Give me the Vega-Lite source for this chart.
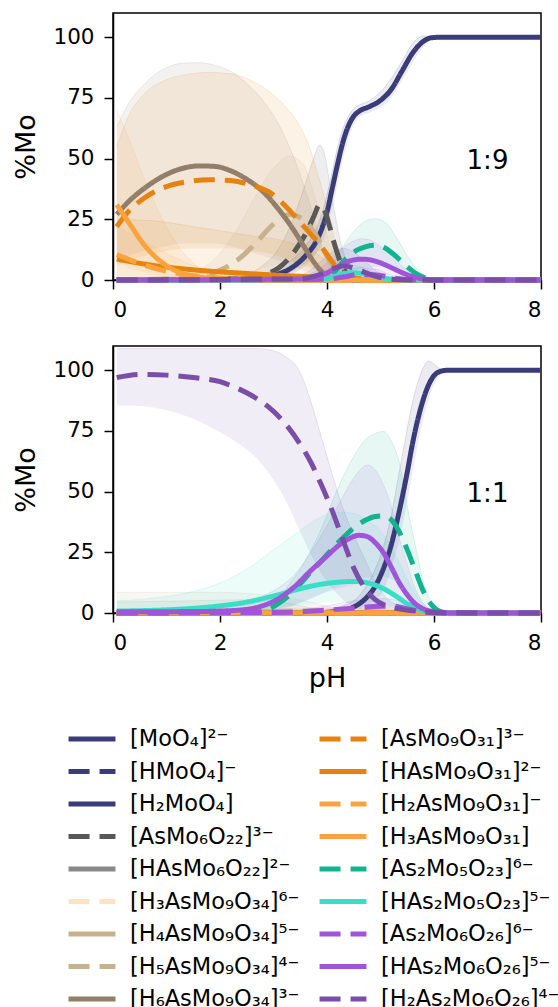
{
"$schema": "https://vega.github.io/schema/vega-lite/v6.json",
"padding": {"left": 12, "top": 12, "right": 10, "bottom": 0},
"config": {
  "font": "DejaVu Sans",
  "view": {"stroke": "#000", "strokeWidth": 1.5},
  "axis": {"grid": false, "domainColor": "#000", "domainWidth": 1.5, "tickColor": "#000", "tickWidth": 1.5, "tickSize": 9, "labelFontSize": 21.5, "labelColor": "#000", "labelPadding": 10, "titleFontSize": 27, "titleFontWeight": "normal", "titleColor": "#000", "titlePadding": 12, "labelFont": "DejaVu Sans", "titleFont": "DejaVu Sans"}
},
"datasets": {
"sp": [
{"k":"m0","s":"[MoO₄]²⁻"},{"k":"m1","s":"[HMoO₄]⁻"},{"k":"m2","s":"[H₂MoO₄]"},
{"k":"a6","s":"[AsMo₆O₂₂]³⁻"},{"k":"a6h","s":"[HAsMo₆O₂₂]²⁻"},
{"k":"h3","s":"[H₃AsMo₉O₃₄]⁶⁻"},{"k":"h4","s":"[H₄AsMo₉O₃₄]⁵⁻"},{"k":"h5","s":"[H₅AsMo₉O₃₄]⁴⁻"},{"k":"h6","s":"[H₆AsMo₉O₃₄]³⁻"},
{"k":"a9","s":"[AsMo₉O₃₁]³⁻"},{"k":"a9h","s":"[HAsMo₉O₃₁]²⁻"},{"k":"a9h2","s":"[H₂AsMo₉O₃₁]⁻"},{"k":"a9h3","s":"[H₃AsMo₉O₃₁]"},
{"k":"b5","s":"[As₂Mo₅O₂₃]⁶⁻"},{"k":"b5h","s":"[HAs₂Mo₅O₂₃]⁵⁻"},
{"k":"b6","s":"[As₂Mo₆O₂₆]⁶⁻"},{"k":"b6h","s":"[HAs₂Mo₆O₂₆]⁵⁻"},{"k":"b6h2","s":"[H₂As₂Mo₆O₂₆]⁴⁻"}
],
"ann": [{"p":"1:9","x":7,"y":49,"t":"1:9"},{"p":"1:1","x":7,"y":49,"t":"1:1"}],
"d": [
{"p":"1:9","k":"m0","x":0.07,"v":0,"lo":0,"hi":0.5},
{"p":"1:9","k":"m0","x":2.5,"v":0.5,"lo":0,"hi":1.5},
{"p":"1:9","k":"m0","x":3.0,"v":2,"lo":0.5,"hi":4},
{"p":"1:9","k":"m0","x":3.3,"v":4.5,"lo":2,"hi":7.5},
{"p":"1:9","k":"m0","x":3.6,"v":10,"lo":6,"hi":14},
{"p":"1:9","k":"m0","x":3.8,"v":16,"lo":11,"hi":21},
{"p":"1:9","k":"m0","x":3.9,"v":21,"lo":15,"hi":27},
{"p":"1:9","k":"m0","x":4.0,"v":28,"lo":21,"hi":35},
{"p":"1:9","k":"m0","x":4.1,"v":38,"lo":30,"hi":45},
{"p":"1:9","k":"m0","x":4.2,"v":48,"lo":40,"hi":55},
{"p":"1:9","k":"m0","x":4.3,"v":57,"lo":50,"hi":62.5},
{"p":"1:9","k":"m0","x":4.4,"v":63.5,"lo":58,"hi":67.5},
{"p":"1:9","k":"m0","x":4.5,"v":67.5,"lo":64,"hi":70.5},
{"p":"1:9","k":"m0","x":4.6,"v":69.5,"lo":67,"hi":72},
{"p":"1:9","k":"m0","x":4.8,"v":71.5,"lo":69,"hi":74},
{"p":"1:9","k":"m0","x":5.0,"v":74,"lo":71,"hi":77.5},
{"p":"1:9","k":"m0","x":5.2,"v":78.5,"lo":75,"hi":83},
{"p":"1:9","k":"m0","x":5.4,"v":86,"lo":82,"hi":90},
{"p":"1:9","k":"m0","x":5.6,"v":93.5,"lo":89.5,"hi":97.5},
{"p":"1:9","k":"m0","x":5.8,"v":98.3,"lo":96,"hi":100.5},
{"p":"1:9","k":"m0","x":5.95,"v":99.8,"lo":99,"hi":100.3},
{"p":"1:9","k":"m0","x":6.1,"v":100,"lo":100,"hi":100},
{"p":"1:9","k":"m0","x":8,"v":100,"lo":100,"hi":100},
{"p":"1:9","k":"m1","x":0.07,"v":0,"lo":0,"hi":0},
{"p":"1:9","k":"m1","x":8,"v":0,"lo":0,"hi":0},
{"p":"1:9","k":"m2","x":0.07,"v":0,"lo":0,"hi":0},
{"p":"1:9","k":"m2","x":8,"v":0,"lo":0,"hi":0},
{"p":"1:9","k":"a6","x":0.07,"v":0,"lo":0,"hi":0},
{"p":"1:9","k":"a6","x":2.4,"v":0.5,"lo":0,"hi":2},
{"p":"1:9","k":"a6","x":2.8,"v":2,"lo":0.5,"hi":6},
{"p":"1:9","k":"a6","x":3.1,"v":5,"lo":1.5,"hi":13},
{"p":"1:9","k":"a6","x":3.4,"v":12,"lo":4,"hi":27},
{"p":"1:9","k":"a6","x":3.6,"v":19,"lo":7,"hi":40},
{"p":"1:9","k":"a6","x":3.75,"v":26,"lo":10,"hi":50},
{"p":"1:9","k":"a6","x":3.86,"v":31,"lo":12,"hi":55.5},
{"p":"1:9","k":"a6","x":3.95,"v":29,"lo":11,"hi":52},
{"p":"1:9","k":"a6","x":4.05,"v":22,"lo":8,"hi":40},
{"p":"1:9","k":"a6","x":4.15,"v":14,"lo":5,"hi":27},
{"p":"1:9","k":"a6","x":4.25,"v":7.5,"lo":2.5,"hi":16},
{"p":"1:9","k":"a6","x":4.4,"v":2,"lo":0.5,"hi":6},
{"p":"1:9","k":"a6","x":4.6,"v":0.3,"lo":0,"hi":1},
{"p":"1:9","k":"a6","x":5.0,"v":0,"lo":0,"hi":0},
{"p":"1:9","k":"a6","x":8,"v":0,"lo":0,"hi":0},
{"p":"1:9","k":"a6h","x":0.07,"v":0,"lo":0,"hi":0},
{"p":"1:9","k":"a6h","x":8,"v":0,"lo":0,"hi":0},
{"p":"1:9","k":"h3","x":0.07,"v":0,"lo":0,"hi":0},
{"p":"1:9","k":"h3","x":8,"v":0,"lo":0,"hi":0},
{"p":"1:9","k":"h4","x":0.07,"v":0,"lo":0,"hi":0},
{"p":"1:9","k":"h4","x":8,"v":0,"lo":0,"hi":0},
{"p":"1:9","k":"h5","x":0.07,"v":0,"lo":0,"hi":0},
{"p":"1:9","k":"h5","x":1.2,"v":0.5,"lo":0,"hi":2},
{"p":"1:9","k":"h5","x":1.6,"v":1.5,"lo":0,"hi":4},
{"p":"1:9","k":"h5","x":2.0,"v":4,"lo":0.5,"hi":11},
{"p":"1:9","k":"h5","x":2.4,"v":9.5,"lo":2,"hi":24},
{"p":"1:9","k":"h5","x":2.7,"v":16,"lo":4,"hi":36},
{"p":"1:9","k":"h5","x":3.0,"v":23,"lo":6,"hi":46},
{"p":"1:9","k":"h5","x":3.3,"v":27,"lo":7.5,"hi":51},
{"p":"1:9","k":"h5","x":3.55,"v":25,"lo":6.5,"hi":48},
{"p":"1:9","k":"h5","x":3.75,"v":20,"lo":5,"hi":36},
{"p":"1:9","k":"h5","x":3.95,"v":12,"lo":3,"hi":22},
{"p":"1:9","k":"h5","x":4.1,"v":6,"lo":1.5,"hi":12},
{"p":"1:9","k":"h5","x":4.3,"v":2,"lo":0.5,"hi":4},
{"p":"1:9","k":"h5","x":4.5,"v":0.5,"lo":0,"hi":1},
{"p":"1:9","k":"h5","x":4.8,"v":0,"lo":0,"hi":0},
{"p":"1:9","k":"h5","x":8,"v":0,"lo":0,"hi":0},
{"p":"1:9","k":"h6","x":0.07,"v":27,"lo":8,"hi":63},
{"p":"1:9","k":"h6","x":0.3,"v":32.5,"lo":10,"hi":73},
{"p":"1:9","k":"h6","x":0.6,"v":38,"lo":12,"hi":81},
{"p":"1:9","k":"h6","x":1.0,"v":43.5,"lo":14,"hi":87.5},
{"p":"1:9","k":"h6","x":1.3,"v":46,"lo":15,"hi":89.3},
{"p":"1:9","k":"h6","x":1.6,"v":47,"lo":15,"hi":89.5},
{"p":"1:9","k":"h6","x":1.9,"v":46.8,"lo":15,"hi":88.5},
{"p":"1:9","k":"h6","x":2.2,"v":45,"lo":14,"hi":86},
{"p":"1:9","k":"h6","x":2.5,"v":41.5,"lo":12,"hi":81},
{"p":"1:9","k":"h6","x":2.8,"v":36.5,"lo":10,"hi":74},
{"p":"1:9","k":"h6","x":3.1,"v":29,"lo":8,"hi":64},
{"p":"1:9","k":"h6","x":3.35,"v":21.5,"lo":6,"hi":52},
{"p":"1:9","k":"h6","x":3.55,"v":14.5,"lo":4,"hi":40},
{"p":"1:9","k":"h6","x":3.75,"v":7.5,"lo":2,"hi":26},
{"p":"1:9","k":"h6","x":3.9,"v":3.5,"lo":1,"hi":14},
{"p":"1:9","k":"h6","x":4.05,"v":1.2,"lo":0.2,"hi":5},
{"p":"1:9","k":"h6","x":4.25,"v":0.3,"lo":0,"hi":1},
{"p":"1:9","k":"h6","x":4.6,"v":0,"lo":0,"hi":0},
{"p":"1:9","k":"h6","x":8,"v":0,"lo":0,"hi":0},
{"p":"1:9","k":"a9","x":0.07,"v":22,"lo":6,"hi":55},
{"p":"1:9","k":"a9","x":0.3,"v":28.5,"lo":8,"hi":68},
{"p":"1:9","k":"a9","x":0.6,"v":34,"lo":10,"hi":77},
{"p":"1:9","k":"a9","x":1.0,"v":38.5,"lo":12,"hi":82.5},
{"p":"1:9","k":"a9","x":1.4,"v":40.5,"lo":13,"hi":84.8},
{"p":"1:9","k":"a9","x":1.8,"v":41.3,"lo":13,"hi":85.5},
{"p":"1:9","k":"a9","x":2.2,"v":41,"lo":13,"hi":85},
{"p":"1:9","k":"a9","x":2.6,"v":39,"lo":12,"hi":82},
{"p":"1:9","k":"a9","x":2.9,"v":36.5,"lo":11,"hi":78},
{"p":"1:9","k":"a9","x":3.2,"v":31,"lo":9,"hi":72},
{"p":"1:9","k":"a9","x":3.45,"v":25,"lo":7,"hi":65},
{"p":"1:9","k":"a9","x":3.65,"v":20,"lo":5,"hi":56},
{"p":"1:9","k":"a9","x":3.85,"v":15,"lo":3.5,"hi":42},
{"p":"1:9","k":"a9","x":4.0,"v":10.5,"lo":2,"hi":30},
{"p":"1:9","k":"a9","x":4.15,"v":6,"lo":1,"hi":16},
{"p":"1:9","k":"a9","x":4.3,"v":3,"lo":0.5,"hi":6},
{"p":"1:9","k":"a9","x":4.5,"v":1,"lo":0,"hi":1.5},
{"p":"1:9","k":"a9","x":4.8,"v":0.2,"lo":0,"hi":0.3},
{"p":"1:9","k":"a9","x":5.2,"v":0,"lo":0,"hi":0},
{"p":"1:9","k":"a9","x":8,"v":0,"lo":0,"hi":0},
{"p":"1:9","k":"a9h","x":0.07,"v":8.6,"lo":1,"hi":25},
{"p":"1:9","k":"a9h","x":0.7,"v":6.2,"lo":1,"hi":24.5},
{"p":"1:9","k":"a9h","x":1.5,"v":4.2,"lo":0.8,"hi":22},
{"p":"1:9","k":"a9h","x":2.5,"v":2.7,"lo":0.5,"hi":18.5},
{"p":"1:9","k":"a9h","x":3.3,"v":1.7,"lo":0.3,"hi":15.5},
{"p":"1:9","k":"a9h","x":3.8,"v":1.2,"lo":0.2,"hi":11},
{"p":"1:9","k":"a9h","x":4.1,"v":0.8,"lo":0.1,"hi":6},
{"p":"1:9","k":"a9h","x":4.4,"v":0.3,"lo":0,"hi":1.5},
{"p":"1:9","k":"a9h","x":4.8,"v":0,"lo":0,"hi":0},
{"p":"1:9","k":"a9h","x":8,"v":0,"lo":0,"hi":0},
{"p":"1:9","k":"a9h2","x":0.07,"v":10.5,"lo":2,"hi":22},
{"p":"1:9","k":"a9h2","x":0.5,"v":6.8,"lo":1.2,"hi":17},
{"p":"1:9","k":"a9h2","x":1.0,"v":3.6,"lo":0.5,"hi":11},
{"p":"1:9","k":"a9h2","x":1.5,"v":1.8,"lo":0.2,"hi":6},
{"p":"1:9","k":"a9h2","x":2.0,"v":0.8,"lo":0,"hi":3},
{"p":"1:9","k":"a9h2","x":3.0,"v":0.2,"lo":0,"hi":0.8},
{"p":"1:9","k":"a9h2","x":4.0,"v":0,"lo":0,"hi":0},
{"p":"1:9","k":"a9h2","x":8,"v":0,"lo":0,"hi":0},
{"p":"1:9","k":"a9h3","x":0.07,"v":31,"lo":8,"hi":70},
{"p":"1:9","k":"a9h3","x":0.3,"v":23.5,"lo":5,"hi":58},
{"p":"1:9","k":"a9h3","x":0.6,"v":14,"lo":3,"hi":41},
{"p":"1:9","k":"a9h3","x":0.9,"v":7.5,"lo":1.5,"hi":26},
{"p":"1:9","k":"a9h3","x":1.2,"v":3.5,"lo":0.6,"hi":14.5},
{"p":"1:9","k":"a9h3","x":1.5,"v":1.6,"lo":0.2,"hi":7},
{"p":"1:9","k":"a9h3","x":1.9,"v":0.6,"lo":0,"hi":2.5},
{"p":"1:9","k":"a9h3","x":2.4,"v":0.2,"lo":0,"hi":0.5},
{"p":"1:9","k":"a9h3","x":3.0,"v":0,"lo":0,"hi":0},
{"p":"1:9","k":"a9h3","x":8,"v":0,"lo":0,"hi":0},
{"p":"1:9","k":"b5","x":0.07,"v":0,"lo":0,"hi":0},
{"p":"1:9","k":"b5","x":3.8,"v":0.2,"lo":0,"hi":1},
{"p":"1:9","k":"b5","x":4.0,"v":1,"lo":0.2,"hi":3.5},
{"p":"1:9","k":"b5","x":4.15,"v":3.5,"lo":1,"hi":8},
{"p":"1:9","k":"b5","x":4.3,"v":7.5,"lo":2.5,"hi":14},
{"p":"1:9","k":"b5","x":4.5,"v":11.5,"lo":4,"hi":20},
{"p":"1:9","k":"b5","x":4.7,"v":13.5,"lo":5,"hi":24},
{"p":"1:9","k":"b5","x":4.9,"v":14.3,"lo":5.5,"hi":25.2},
{"p":"1:9","k":"b5","x":5.1,"v":13,"lo":5,"hi":23.5},
{"p":"1:9","k":"b5","x":5.3,"v":9.5,"lo":3.5,"hi":17.5},
{"p":"1:9","k":"b5","x":5.5,"v":5.5,"lo":2,"hi":10},
{"p":"1:9","k":"b5","x":5.7,"v":2.2,"lo":0.8,"hi":4},
{"p":"1:9","k":"b5","x":5.9,"v":0.5,"lo":0.2,"hi":1},
{"p":"1:9","k":"b5","x":6.1,"v":0,"lo":0,"hi":0},
{"p":"1:9","k":"b5","x":8,"v":0,"lo":0,"hi":0},
{"p":"1:9","k":"b5h","x":0.07,"v":0,"lo":0,"hi":0},
{"p":"1:9","k":"b5h","x":3.9,"v":0.3,"lo":0,"hi":1},
{"p":"1:9","k":"b5h","x":4.1,"v":1.2,"lo":0.3,"hi":3},
{"p":"1:9","k":"b5h","x":4.3,"v":2.5,"lo":0.8,"hi":5},
{"p":"1:9","k":"b5h","x":4.5,"v":3,"lo":1,"hi":6},
{"p":"1:9","k":"b5h","x":4.7,"v":2.5,"lo":0.8,"hi":5},
{"p":"1:9","k":"b5h","x":4.95,"v":1.2,"lo":0.3,"hi":2.5},
{"p":"1:9","k":"b5h","x":5.3,"v":0.2,"lo":0,"hi":0.5},
{"p":"1:9","k":"b5h","x":5.6,"v":0,"lo":0,"hi":0},
{"p":"1:9","k":"b5h","x":8,"v":0,"lo":0,"hi":0},
{"p":"1:9","k":"b6","x":0.07,"v":0,"lo":0,"hi":0},
{"p":"1:9","k":"b6","x":4.0,"v":0.3,"lo":0,"hi":1},
{"p":"1:9","k":"b6","x":4.3,"v":1.2,"lo":0.3,"hi":3},
{"p":"1:9","k":"b6","x":4.6,"v":2.3,"lo":0.7,"hi":5},
{"p":"1:9","k":"b6","x":4.9,"v":2.2,"lo":0.6,"hi":4.5},
{"p":"1:9","k":"b6","x":5.2,"v":1,"lo":0.2,"hi":2},
{"p":"1:9","k":"b6","x":5.5,"v":0.2,"lo":0,"hi":0.5},
{"p":"1:9","k":"b6","x":5.8,"v":0,"lo":0,"hi":0},
{"p":"1:9","k":"b6","x":8,"v":0,"lo":0,"hi":0},
{"p":"1:9","k":"b6h","x":0.07,"v":0,"lo":0,"hi":0},
{"p":"1:9","k":"b6h","x":3.6,"v":0.4,"lo":0,"hi":2},
{"p":"1:9","k":"b6h","x":3.85,"v":1.5,"lo":0.5,"hi":4.5},
{"p":"1:9","k":"b6h","x":4.05,"v":3.5,"lo":1.5,"hi":8},
{"p":"1:9","k":"b6h","x":4.25,"v":6,"lo":2.5,"hi":12.5},
{"p":"1:9","k":"b6h","x":4.45,"v":8,"lo":3.5,"hi":15.5},
{"p":"1:9","k":"b6h","x":4.65,"v":8.6,"lo":4,"hi":17},
{"p":"1:9","k":"b6h","x":4.85,"v":8.1,"lo":3.5,"hi":16},
{"p":"1:9","k":"b6h","x":5.05,"v":6.6,"lo":2.8,"hi":13},
{"p":"1:9","k":"b6h","x":5.25,"v":4.6,"lo":1.8,"hi":9},
{"p":"1:9","k":"b6h","x":5.45,"v":2.6,"lo":1,"hi":5},
{"p":"1:9","k":"b6h","x":5.65,"v":1.1,"lo":0.3,"hi":2},
{"p":"1:9","k":"b6h","x":5.85,"v":0.3,"lo":0,"hi":0.5},
{"p":"1:9","k":"b6h","x":6.1,"v":0,"lo":0,"hi":0},
{"p":"1:9","k":"b6h","x":8,"v":0,"lo":0,"hi":0},
{"p":"1:9","k":"b6h2","x":0.07,"v":0,"lo":0,"hi":0},
{"p":"1:9","k":"b6h2","x":3.5,"v":0.5,"lo":0,"hi":2},
{"p":"1:9","k":"b6h2","x":3.75,"v":1.5,"lo":0.3,"hi":5},
{"p":"1:9","k":"b6h2","x":3.95,"v":3,"lo":0.8,"hi":9},
{"p":"1:9","k":"b6h2","x":4.15,"v":5,"lo":1.5,"hi":12},
{"p":"1:9","k":"b6h2","x":4.3,"v":5.8,"lo":2,"hi":13},
{"p":"1:9","k":"b6h2","x":4.5,"v":5,"lo":1.5,"hi":11.5},
{"p":"1:9","k":"b6h2","x":4.7,"v":3.2,"lo":1,"hi":8},
{"p":"1:9","k":"b6h2","x":4.9,"v":1.6,"lo":0.4,"hi":4},
{"p":"1:9","k":"b6h2","x":5.1,"v":0.6,"lo":0,"hi":1.5},
{"p":"1:9","k":"b6h2","x":5.4,"v":0.1,"lo":0,"hi":0.3},
{"p":"1:9","k":"b6h2","x":5.7,"v":0,"lo":0,"hi":0},
{"p":"1:9","k":"b6h2","x":8,"v":0,"lo":0,"hi":0},
{"p":"1:1","k":"m0","x":0.07,"v":0,"lo":0,"hi":0},
{"p":"1:1","k":"m0","x":3.5,"v":0,"lo":0,"hi":0.3},
{"p":"1:1","k":"m0","x":4.0,"v":0.3,"lo":0,"hi":1},
{"p":"1:1","k":"m0","x":4.3,"v":1.2,"lo":0.3,"hi":3},
{"p":"1:1","k":"m0","x":4.5,"v":2.5,"lo":1,"hi":5},
{"p":"1:1","k":"m0","x":4.7,"v":5.5,"lo":2.5,"hi":10},
{"p":"1:1","k":"m0","x":4.9,"v":11,"lo":5.5,"hi":18},
{"p":"1:1","k":"m0","x":5.05,"v":18,"lo":9,"hi":27},
{"p":"1:1","k":"m0","x":5.2,"v":28,"lo":18,"hi":40},
{"p":"1:1","k":"m0","x":5.3,"v":37,"lo":26,"hi":52},
{"p":"1:1","k":"m0","x":5.4,"v":47,"lo":35,"hi":64},
{"p":"1:1","k":"m0","x":5.5,"v":58,"lo":46,"hi":76},
{"p":"1:1","k":"m0","x":5.6,"v":70,"lo":58,"hi":87},
{"p":"1:1","k":"m0","x":5.7,"v":80,"lo":70,"hi":95},
{"p":"1:1","k":"m0","x":5.8,"v":88,"lo":80,"hi":101},
{"p":"1:1","k":"m0","x":5.9,"v":94,"lo":88,"hi":103.8},
{"p":"1:1","k":"m0","x":6.0,"v":97.8,"lo":94,"hi":102.5},
{"p":"1:1","k":"m0","x":6.1,"v":99.4,"lo":97.5,"hi":100.8},
{"p":"1:1","k":"m0","x":6.25,"v":100,"lo":99.5,"hi":100},
{"p":"1:1","k":"m0","x":8,"v":100,"lo":100,"hi":100},
{"p":"1:1","k":"m1","x":0.07,"v":0,"lo":0,"hi":0},
{"p":"1:1","k":"m1","x":8,"v":0,"lo":0,"hi":0},
{"p":"1:1","k":"m2","x":0.07,"v":0,"lo":0,"hi":0},
{"p":"1:1","k":"m2","x":8,"v":0,"lo":0,"hi":0},
{"p":"1:1","k":"a6","x":0.07,"v":0,"lo":0,"hi":0},
{"p":"1:1","k":"a6","x":8,"v":0,"lo":0,"hi":0},
{"p":"1:1","k":"a6h","x":0.07,"v":0.3,"lo":0,"hi":4.5},
{"p":"1:1","k":"a6h","x":1.5,"v":0.3,"lo":0,"hi":5},
{"p":"1:1","k":"a6h","x":2.5,"v":0.3,"lo":0,"hi":5.5},
{"p":"1:1","k":"a6h","x":3.0,"v":0.3,"lo":0,"hi":5},
{"p":"1:1","k":"a6h","x":3.5,"v":0.2,"lo":0,"hi":3},
{"p":"1:1","k":"a6h","x":4.0,"v":0.1,"lo":0,"hi":1},
{"p":"1:1","k":"a6h","x":4.5,"v":0,"lo":0,"hi":0},
{"p":"1:1","k":"a6h","x":8,"v":0,"lo":0,"hi":0},
{"p":"1:1","k":"h3","x":0.07,"v":0,"lo":0,"hi":0},
{"p":"1:1","k":"h3","x":8,"v":0,"lo":0,"hi":0},
{"p":"1:1","k":"h4","x":0.07,"v":0.3,"lo":0,"hi":8.5},
{"p":"1:1","k":"h4","x":2.0,"v":0.3,"lo":0,"hi":8.5},
{"p":"1:1","k":"h4","x":3.0,"v":0.3,"lo":0,"hi":7},
{"p":"1:1","k":"h4","x":3.8,"v":0.2,"lo":0,"hi":4},
{"p":"1:1","k":"h4","x":4.3,"v":0.1,"lo":0,"hi":1},
{"p":"1:1","k":"h4","x":4.8,"v":0,"lo":0,"hi":0},
{"p":"1:1","k":"h4","x":8,"v":0,"lo":0,"hi":0},
{"p":"1:1","k":"h5","x":0.07,"v":0,"lo":0,"hi":0},
{"p":"1:1","k":"h5","x":2.5,"v":0.3,"lo":0,"hi":1},
{"p":"1:1","k":"h5","x":3.5,"v":0.8,"lo":0,"hi":2},
{"p":"1:1","k":"h5","x":4.5,"v":0.8,"lo":0,"hi":2},
{"p":"1:1","k":"h5","x":5.2,"v":0.2,"lo":0,"hi":0.5},
{"p":"1:1","k":"h5","x":5.6,"v":0,"lo":0,"hi":0},
{"p":"1:1","k":"h5","x":8,"v":0,"lo":0,"hi":0},
{"p":"1:1","k":"h6","x":0.07,"v":0,"lo":0,"hi":0},
{"p":"1:1","k":"h6","x":8,"v":0,"lo":0,"hi":0},
{"p":"1:1","k":"a9","x":0.07,"v":0,"lo":0,"hi":0},
{"p":"1:1","k":"a9","x":8,"v":0,"lo":0,"hi":0},
{"p":"1:1","k":"a9h","x":0.07,"v":0,"lo":0,"hi":0},
{"p":"1:1","k":"a9h","x":8,"v":0,"lo":0,"hi":0},
{"p":"1:1","k":"a9h2","x":0.07,"v":0,"lo":0,"hi":0},
{"p":"1:1","k":"a9h2","x":8,"v":0,"lo":0,"hi":0},
{"p":"1:1","k":"a9h3","x":0.07,"v":0,"lo":0,"hi":0},
{"p":"1:1","k":"a9h3","x":8,"v":0,"lo":0,"hi":0},
{"p":"1:1","k":"b5","x":0.07,"v":0,"lo":0,"hi":0},
{"p":"1:1","k":"b5","x":2.6,"v":0.2,"lo":0,"hi":1},
{"p":"1:1","k":"b5","x":2.9,"v":1.5,"lo":0.5,"hi":2.5},
{"p":"1:1","k":"b5","x":3.1,"v":4,"lo":1.2,"hi":6},
{"p":"1:1","k":"b5","x":3.3,"v":7.5,"lo":2.5,"hi":12},
{"p":"1:1","k":"b5","x":3.5,"v":12,"lo":4,"hi":18},
{"p":"1:1","k":"b5","x":3.7,"v":17,"lo":6,"hi":26},
{"p":"1:1","k":"b5","x":3.9,"v":21.5,"lo":8,"hi":35},
{"p":"1:1","k":"b5","x":4.1,"v":26.5,"lo":10,"hi":46},
{"p":"1:1","k":"b5","x":4.3,"v":31,"lo":12,"hi":56},
{"p":"1:1","k":"b5","x":4.5,"v":35,"lo":13.5,"hi":64.5},
{"p":"1:1","k":"b5","x":4.7,"v":38,"lo":14.5,"hi":71},
{"p":"1:1","k":"b5","x":4.9,"v":39.8,"lo":15,"hi":74},
{"p":"1:1","k":"b5","x":5.05,"v":40,"lo":15,"hi":74.8},
{"p":"1:1","k":"b5","x":5.2,"v":38.5,"lo":14,"hi":71},
{"p":"1:1","k":"b5","x":5.35,"v":33.5,"lo":12,"hi":62},
{"p":"1:1","k":"b5","x":5.5,"v":26,"lo":9,"hi":44},
{"p":"1:1","k":"b5","x":5.65,"v":17.5,"lo":6,"hi":28},
{"p":"1:1","k":"b5","x":5.8,"v":9,"lo":3,"hi":13},
{"p":"1:1","k":"b5","x":5.95,"v":3.5,"lo":1,"hi":4.5},
{"p":"1:1","k":"b5","x":6.1,"v":0.8,"lo":0.2,"hi":1},
{"p":"1:1","k":"b5","x":6.3,"v":0,"lo":0,"hi":0},
{"p":"1:1","k":"b5","x":8,"v":0,"lo":0,"hi":0},
{"p":"1:1","k":"b5h","x":0.07,"v":0.8,"lo":0.1,"hi":5},
{"p":"1:1","k":"b5h","x":0.6,"v":1,"lo":0.15,"hi":5.8},
{"p":"1:1","k":"b5h","x":1.2,"v":1.5,"lo":0.2,"hi":7.5},
{"p":"1:1","k":"b5h","x":1.9,"v":2.7,"lo":0.5,"hi":11.5},
{"p":"1:1","k":"b5h","x":2.5,"v":4.5,"lo":1,"hi":18},
{"p":"1:1","k":"b5h","x":3.0,"v":7,"lo":2,"hi":26},
{"p":"1:1","k":"b5h","x":3.5,"v":10,"lo":3,"hi":34},
{"p":"1:1","k":"b5h","x":3.8,"v":11.5,"lo":4,"hi":38.5},
{"p":"1:1","k":"b5h","x":4.2,"v":12.7,"lo":4.5,"hi":41.5},
{"p":"1:1","k":"b5h","x":4.5,"v":13,"lo":4.5,"hi":41},
{"p":"1:1","k":"b5h","x":4.8,"v":12.2,"lo":4,"hi":37.5},
{"p":"1:1","k":"b5h","x":5.1,"v":9.5,"lo":3,"hi":31},
{"p":"1:1","k":"b5h","x":5.3,"v":6.8,"lo":2,"hi":23},
{"p":"1:1","k":"b5h","x":5.5,"v":3.8,"lo":1,"hi":14},
{"p":"1:1","k":"b5h","x":5.7,"v":1.5,"lo":0.3,"hi":6},
{"p":"1:1","k":"b5h","x":5.9,"v":0.4,"lo":0,"hi":1.5},
{"p":"1:1","k":"b5h","x":6.1,"v":0,"lo":0,"hi":0},
{"p":"1:1","k":"b5h","x":8,"v":0,"lo":0,"hi":0},
{"p":"1:1","k":"b6","x":0.07,"v":0,"lo":0,"hi":0},
{"p":"1:1","k":"b6","x":3.3,"v":0.3,"lo":0,"hi":1},
{"p":"1:1","k":"b6","x":4.0,"v":1.2,"lo":0.3,"hi":3},
{"p":"1:1","k":"b6","x":4.5,"v":2,"lo":0.6,"hi":5},
{"p":"1:1","k":"b6","x":5.0,"v":2.8,"lo":0.8,"hi":6},
{"p":"1:1","k":"b6","x":5.25,"v":2.8,"lo":0.8,"hi":5.5},
{"p":"1:1","k":"b6","x":5.45,"v":2,"lo":0.5,"hi":4},
{"p":"1:1","k":"b6","x":5.65,"v":1,"lo":0.2,"hi":2},
{"p":"1:1","k":"b6","x":5.85,"v":0.3,"lo":0,"hi":0.5},
{"p":"1:1","k":"b6","x":6.1,"v":0,"lo":0,"hi":0},
{"p":"1:1","k":"b6","x":8,"v":0,"lo":0,"hi":0},
{"p":"1:1","k":"b6h","x":0.07,"v":0.5,"lo":0.1,"hi":1.5},
{"p":"1:1","k":"b6h","x":1.5,"v":0.6,"lo":0.1,"hi":2},
{"p":"1:1","k":"b6h","x":2.0,"v":0.8,"lo":0.2,"hi":3},
{"p":"1:1","k":"b6h","x":2.5,"v":1.5,"lo":0.4,"hi":5},
{"p":"1:1","k":"b6h","x":2.8,"v":3,"lo":0.8,"hi":7},
{"p":"1:1","k":"b6h","x":3.1,"v":6,"lo":1.8,"hi":10.5},
{"p":"1:1","k":"b6h","x":3.4,"v":11,"lo":3.5,"hi":16},
{"p":"1:1","k":"b6h","x":3.7,"v":17.5,"lo":6,"hi":25},
{"p":"1:1","k":"b6h","x":4.0,"v":23.5,"lo":8.5,"hi":36},
{"p":"1:1","k":"b6h","x":4.2,"v":27.5,"lo":10,"hi":44},
{"p":"1:1","k":"b6h","x":4.4,"v":30.5,"lo":11,"hi":52},
{"p":"1:1","k":"b6h","x":4.6,"v":32,"lo":12,"hi":58.5},
{"p":"1:1","k":"b6h","x":4.75,"v":31.5,"lo":12,"hi":61},
{"p":"1:1","k":"b6h","x":4.9,"v":29,"lo":11,"hi":59},
{"p":"1:1","k":"b6h","x":5.05,"v":25,"lo":9.5,"hi":53},
{"p":"1:1","k":"b6h","x":5.2,"v":19,"lo":7,"hi":44},
{"p":"1:1","k":"b6h","x":5.35,"v":12.5,"lo":4.5,"hi":31},
{"p":"1:1","k":"b6h","x":5.5,"v":7.5,"lo":2.5,"hi":20},
{"p":"1:1","k":"b6h","x":5.65,"v":3.8,"lo":1.2,"hi":10},
{"p":"1:1","k":"b6h","x":5.8,"v":1.7,"lo":0.5,"hi":4},
{"p":"1:1","k":"b6h","x":6.0,"v":0.5,"lo":0.1,"hi":1},
{"p":"1:1","k":"b6h","x":6.2,"v":0.1,"lo":0,"hi":0.2},
{"p":"1:1","k":"b6h","x":6.4,"v":0,"lo":0,"hi":0},
{"p":"1:1","k":"b6h","x":8,"v":0,"lo":0,"hi":0},
{"p":"1:1","k":"b6h2","x":0.07,"v":97,"lo":85.5,"hi":109},
{"p":"1:1","k":"b6h2","x":0.5,"v":98.3,"lo":85.3,"hi":109},
{"p":"1:1","k":"b6h2","x":1.0,"v":98,"lo":83.5,"hi":109},
{"p":"1:1","k":"b6h2","x":1.5,"v":97,"lo":80,"hi":109},
{"p":"1:1","k":"b6h2","x":2.0,"v":95.3,"lo":74.5,"hi":109},
{"p":"1:1","k":"b6h2","x":2.3,"v":92.8,"lo":70.5,"hi":109},
{"p":"1:1","k":"b6h2","x":2.6,"v":89.5,"lo":65.5,"hi":109},
{"p":"1:1","k":"b6h2","x":2.9,"v":85,"lo":58,"hi":108.5},
{"p":"1:1","k":"b6h2","x":3.2,"v":78.5,"lo":47.5,"hi":106},
{"p":"1:1","k":"b6h2","x":3.5,"v":69.5,"lo":33.5,"hi":99},
{"p":"1:1","k":"b6h2","x":3.7,"v":62,"lo":24,"hi":87},
{"p":"1:1","k":"b6h2","x":3.9,"v":52.5,"lo":16,"hi":72},
{"p":"1:1","k":"b6h2","x":4.1,"v":42,"lo":10,"hi":57},
{"p":"1:1","k":"b6h2","x":4.3,"v":30,"lo":5.5,"hi":43},
{"p":"1:1","k":"b6h2","x":4.5,"v":18.5,"lo":2.5,"hi":32},
{"p":"1:1","k":"b6h2","x":4.7,"v":10.5,"lo":1,"hi":22.5},
{"p":"1:1","k":"b6h2","x":4.9,"v":5.5,"lo":0.3,"hi":13},
{"p":"1:1","k":"b6h2","x":5.1,"v":3,"lo":0.1,"hi":6.5},
{"p":"1:1","k":"b6h2","x":5.4,"v":1.5,"lo":0,"hi":2.5},
{"p":"1:1","k":"b6h2","x":5.8,"v":0.5,"lo":0,"hi":0.5},
{"p":"1:1","k":"b6h2","x":6.2,"v":0.1,"lo":0,"hi":0.1},
{"p":"1:1","k":"b6h2","x":8,"v":0,"lo":0,"hi":0}
]
},
"spacing": 23,
"resolve": {"scale": {"stroke": "shared", "strokeDash": "shared", "color": "shared"}, "legend": {"stroke": "shared", "strokeDash": "shared"}},
"vconcat": [
{
  "width": 428, "height": 267,
  "encoding": {"x": {"field": "x", "type": "quantitative", "scale": {"domain": [0, 8], "nice": false}, "axis": {"title": null, "values": [0, 2, 4, 6, 8]}}},
  "layer": [
    {"data": {"name": "d"}, "transform": [{"filter": "datum.p === '1:9'"}],
     "mark": {"type": "area", "interpolate": "monotone", "fillOpacity": 0.1},
     "encoding": {"y": {"field": "lo", "type": "quantitative", "title": "%Mo", "scale": {"domain": [0, 110], "nice": false}, "axis": {"title": "%Mo", "values": [0, 25, 50, 75, 100]}}, "y2": {"field": "hi"},
       "color": {"field": "k", "type": "nominal", "legend": null, "scale": {"domain": ["m0","m1","m2","a6","a6h","h3","h4","h5","h6","a9","a9h","a9h2","a9h3","b5","b5h","b6","b6h","b6h2"], "range": ["#3a3b79","#3a3b79","#3a3b79","#585858","#8a8a8a","#fde2c4","#c8b18f","#c8b18f","#927e69","#e6820e","#e6820e","#f9a340","#f9a340","#12b38f","#38dfc6","#a054d8","#a054d8","#7a4ea8"]}}}},
    {"data": {"name": "d"}, "transform": [{"filter": "datum.p === '1:9'"}],
     "mark": {"type": "line", "interpolate": "monotone", "strokeWidth": 1, "strokeOpacity": 0.15},
     "encoding": {"y": {"field": "hi", "type": "quantitative", "title": "%Mo", "axis": {"title": "%Mo", "values": [0, 25, 50, 75, 100]}}, "color": {"field": "k", "type": "nominal", "legend": null}}},
    {"data": {"name": "d"}, "transform": [{"filter": "datum.p === '1:9'"}, {"lookup": "k", "from": {"data": {"name": "sp"}, "key": "k", "fields": ["s"]}}],
     "mark": {"type": "line", "interpolate": "monotone", "strokeWidth": 5},
     "encoding": {"y": {"field": "v", "type": "quantitative", "title": "%Mo", "axis": {"title": "%Mo", "values": [0, 25, 50, 75, 100]}},
       "stroke": {"field": "s", "type": "nominal", "title": null, "scale": {"domain": ["[MoO₄]²⁻","[HMoO₄]⁻","[H₂MoO₄]","[AsMo₆O₂₂]³⁻","[HAsMo₆O₂₂]²⁻","[H₃AsMo₉O₃₄]⁶⁻","[H₄AsMo₉O₃₄]⁵⁻","[H₅AsMo₉O₃₄]⁴⁻","[H₆AsMo₉O₃₄]³⁻","[AsMo₉O₃₁]³⁻","[HAsMo₉O₃₁]²⁻","[H₂AsMo₉O₃₁]⁻","[H₃AsMo₉O₃₁]","[As₂Mo₅O₂₃]⁶⁻","[HAs₂Mo₅O₂₃]⁵⁻","[As₂Mo₆O₂₆]⁶⁻","[HAs₂Mo₆O₂₆]⁵⁻","[H₂As₂Mo₆O₂₆]⁴⁻"], "range": ["#3a3b79","#3a3b79","#3a3b79","#585858","#8a8a8a","#fde2c4","#c8b18f","#c8b18f","#927e69","#e6820e","#e6820e","#f9a340","#f9a340","#12b38f","#38dfc6","#a054d8","#a054d8","#7a4ea8"]},
         "legend": {"orient": "none", "legendX": -47, "legendY": 714, "columns": 2, "symbolType": "stroke", "symbolSize": 2200, "symbolStrokeWidth": 5, "labelFontSize": 22.5, "labelFont": "DejaVu Sans", "labelColor": "#000", "labelOffset": 12, "rowPadding": 8.5, "clipHeight": 24, "columnPadding": 17, "labelLimit": 400, "padding": 0}},
       "strokeDash": {"field": "s", "type": "nominal", "title": null, "scale": {"domain": ["[MoO₄]²⁻","[HMoO₄]⁻","[H₂MoO₄]","[AsMo₆O₂₂]³⁻","[HAsMo₆O₂₂]²⁻","[H₃AsMo₉O₃₄]⁶⁻","[H₄AsMo₉O₃₄]⁵⁻","[H₅AsMo₉O₃₄]⁴⁻","[H₆AsMo₉O₃₄]³⁻","[AsMo₉O₃₁]³⁻","[HAsMo₉O₃₁]²⁻","[H₂AsMo₉O₃₁]⁻","[H₃AsMo₉O₃₁]","[As₂Mo₅O₂₃]⁶⁻","[HAs₂Mo₅O₂₃]⁵⁻","[As₂Mo₆O₂₆]⁶⁻","[HAs₂Mo₆O₂₆]⁵⁻","[H₂As₂Mo₆O₂₆]⁴⁻"], "range": [[1,0],[21,10],[1,0],[21,10],[1,0],[21,10],[1,0],[21,10],[1,0],[21,10],[1,0],[21,10],[1,0],[21,10],[1,0],[21,10],[1,0],[21,10]]},
         "legend": {"orient": "none", "legendX": -47, "legendY": 714, "columns": 2, "symbolType": "stroke", "symbolSize": 2200, "symbolStrokeWidth": 5, "labelFontSize": 22.5, "labelFont": "DejaVu Sans", "labelColor": "#000", "labelOffset": 12, "rowPadding": 8.5, "clipHeight": 24, "columnPadding": 17, "labelLimit": 400, "padding": 0}}}},
    {"data": {"name": "ann"}, "transform": [{"filter": "datum.p === '1:9'"}],
     "mark": {"type": "text", "fontSize": 26, "font": "DejaVu Sans", "align": "center", "baseline": "middle", "color": "#000"},
     "encoding": {"y": {"field": "y", "type": "quantitative", "title": "%Mo", "axis": {"title": "%Mo", "values": [0, 25, 50, 75, 100]}}, "text": {"field": "t"}}}
  ]
},
{
  "width": 428, "height": 267,
  "encoding": {"x": {"field": "x", "type": "quantitative", "scale": {"domain": [0, 8], "nice": false}, "axis": {"title": "pH", "values": [0, 2, 4, 6, 8]}}},
  "layer": [
    {"data": {"name": "d"}, "transform": [{"filter": "datum.p === '1:1'"}],
     "mark": {"type": "area", "interpolate": "monotone", "fillOpacity": 0.1},
     "encoding": {"y": {"field": "lo", "type": "quantitative", "title": "%Mo", "scale": {"domain": [0, 110], "nice": false}, "axis": {"title": "%Mo", "values": [0, 25, 50, 75, 100]}}, "y2": {"field": "hi"},
       "color": {"field": "k", "type": "nominal", "legend": null}}},
    {"data": {"name": "d"}, "transform": [{"filter": "datum.p === '1:1'"}],
     "mark": {"type": "line", "interpolate": "monotone", "strokeWidth": 1, "strokeOpacity": 0.15},
     "encoding": {"y": {"field": "hi", "type": "quantitative", "title": "%Mo", "axis": {"title": "%Mo", "values": [0, 25, 50, 75, 100]}}, "color": {"field": "k", "type": "nominal", "legend": null}}},
    {"data": {"name": "d"}, "transform": [{"filter": "datum.p === '1:1'"}, {"lookup": "k", "from": {"data": {"name": "sp"}, "key": "k", "fields": ["s"]}}],
     "mark": {"type": "line", "interpolate": "monotone", "strokeWidth": 5},
     "encoding": {"y": {"field": "v", "type": "quantitative", "title": "%Mo", "axis": {"title": "%Mo", "values": [0, 25, 50, 75, 100]}},
       "stroke": {"field": "s", "type": "nominal", "title": null},
       "strokeDash": {"field": "s", "type": "nominal", "title": null}}},
    {"data": {"name": "ann"}, "transform": [{"filter": "datum.p === '1:1'"}],
     "mark": {"type": "text", "fontSize": 26, "font": "DejaVu Sans", "align": "center", "baseline": "middle", "color": "#000"},
     "encoding": {"y": {"field": "y", "type": "quantitative", "title": "%Mo", "axis": {"title": "%Mo", "values": [0, 25, 50, 75, 100]}}, "text": {"field": "t"}}}
  ]
}
]
}
